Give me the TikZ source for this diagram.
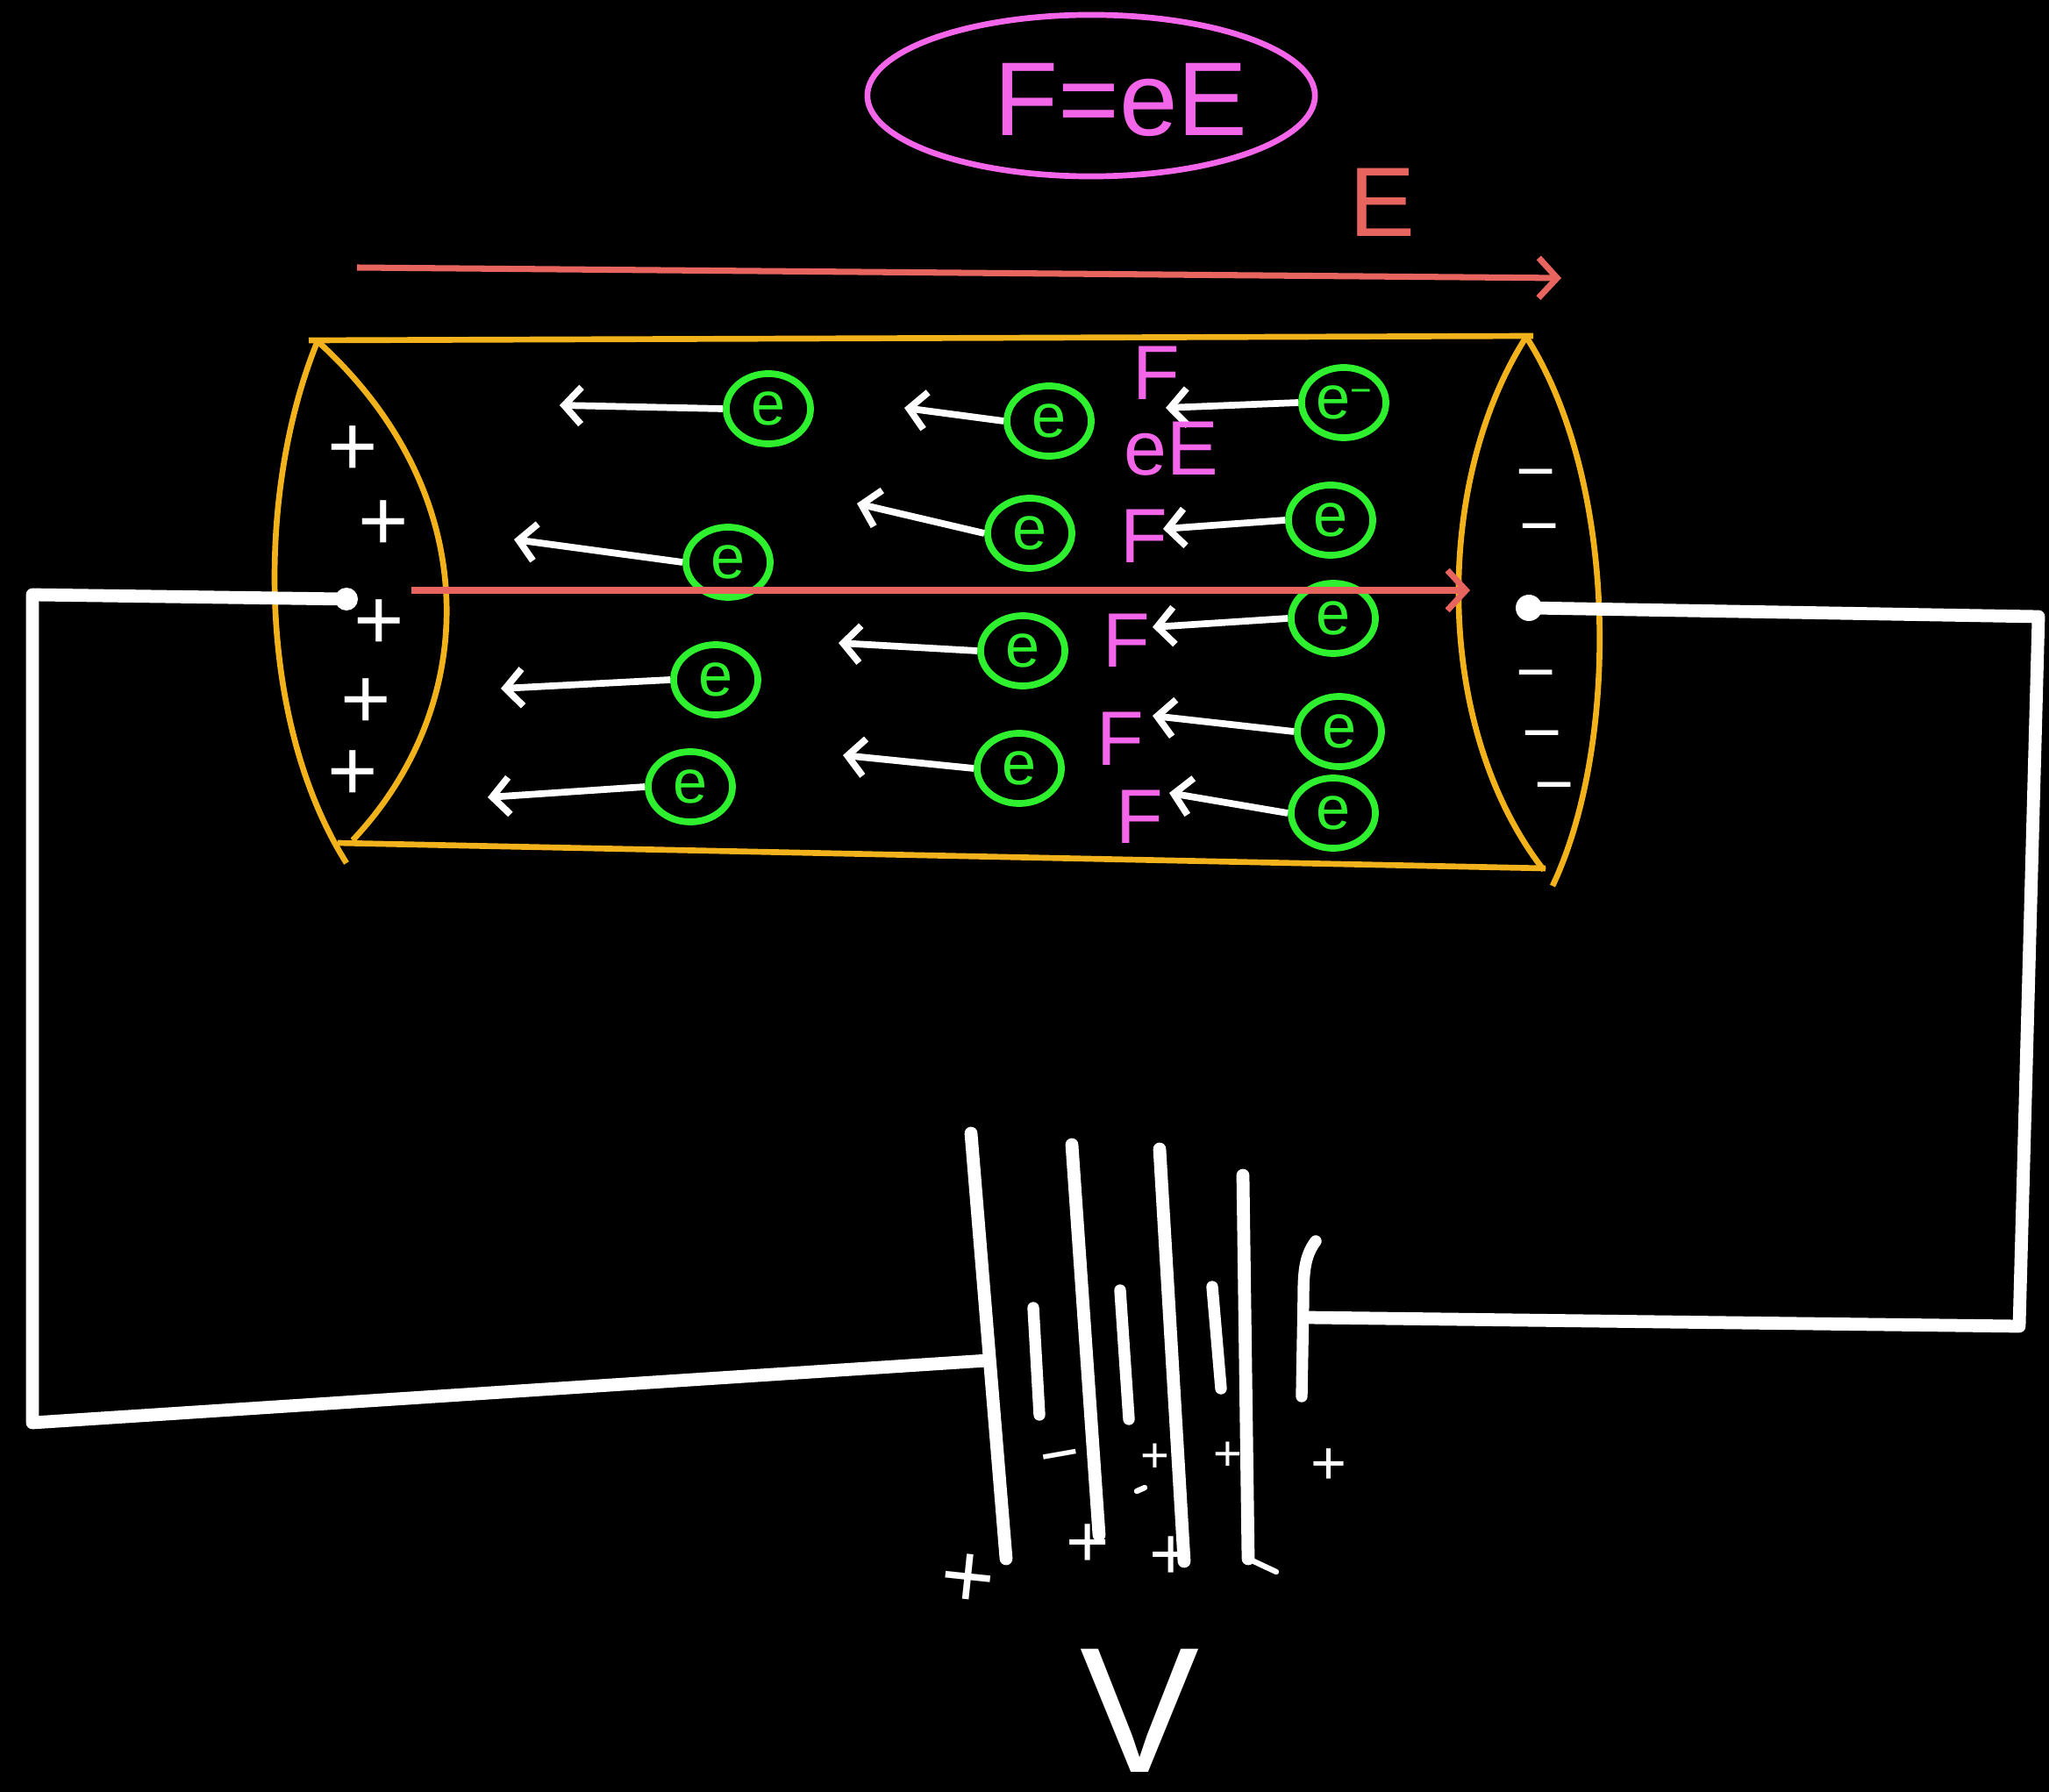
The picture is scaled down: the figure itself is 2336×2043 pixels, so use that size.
\documentclass[tikz,border=0pt]{standalone}
\usepackage{fontspec}
\setmainfont{Liberation Sans}
\usetikzlibrary{arrows.meta,shapes.geometric}
\definecolor{amber}{HTML}{F2B21B}
\definecolor{elgreen}{HTML}{2EF02E}
\definecolor{pinkish}{HTML}{F466E9}
\definecolor{fieldred}{HTML}{E8645E}
\newcommand{\fsz}[1]{\fontsize{#1}{#1}\selectfont}

\begin{document}
\begin{tikzpicture}[x=0.01cm,y=-0.01cm,
  wire/.style={white,line width=4.2pt,line cap=round,line join=round},
  plate/.style={white,line width=4.2pt,line cap=round},
  shortplate/.style={white,line width=3.8pt,line cap=round},
  tick/.style={white,line width=1.8pt,line cap=round},
  tube/.style={amber,line width=1.9pt},
  field/.style={fieldred,line width=2pt,-{Straight Barb[length=6pt,width=13pt]}},
  force/.style={white,line width=2.2pt,-{Straight Barb[length=5.5pt,width=12pt]}},
  electron/.style={ellipse,draw=elgreen,line width=2.2pt,minimum width=0.96cm,
    minimum height=0.8cm,inner sep=0pt,text=elgreen,font=\fsz{20}},
  flabel/.style={text=pinkish,font=\fsz{25},inner sep=0pt},
  pluscharge/.style={text=white,inner sep=0pt,font=\fsz{28}},
  minuscharge/.style={text=white,inner sep=0pt,font=\fsz{22}},
  cellmark/.style={text=white,inner sep=0pt},
]
\fill[black] (0,0) rectangle (2336,2043);
\useasboundingbox (0,0) rectangle (2336,2043);

% the force law, ringed
\node[ellipse,draw=pinkish,line width=1.9pt,minimum width=5.1cm,minimum height=1.84cm] (lawring) at (1244,109) {};
\node[text=pinkish,font=\fsz{34},inner sep=0pt] (lawtext) at (1278,114) {F=eE};

% field label and the field arrow above the conductor
\node[text=fieldred,font=\fsz{32},inner sep=0pt] (Elabel) at (1576,231) {E};
\coordinate (ftail) at (407,305);
\coordinate (fhead) at (1780,317);
\draw[field] (ftail) -- (fhead);

% the conductor: a cylinder with two end caps
\coordinate (tl) at (362,389);
\coordinate (tr) at (1740,384);
\coordinate (bl) at (395,984);
\coordinate (blf) at (402,958);
\coordinate (br) at (1760,992);
\coordinate (brf) at (1770,1010);
\draw[tube] (352,388) -- (1748,383);
\draw[tube] (385,961) -- (1762,990);
\draw[tube] (tl) .. controls (292,560) and (292,820) .. (bl);
\draw[tube] (tl) .. controls (551,560) and (551,800) .. (blf);
\draw[tube] (tr) .. controls (1634,550) and (1634,830) .. (br);
\draw[tube] (tr) .. controls (1846,550) and (1846,850) .. (brf);

% positive charges on the left face
\foreach \x/\y [count=\i] in {402/514, 437/599, 432/712, 417/802, 402/884}
  \node[pluscharge] (p\i) at (\x,\y) {+};
% negative charges on the right face
\foreach \x/\y [count=\i] in {1751/549, 1755/611, 1751/778, 1758/847, 1772/906}
  \node[minuscharge] (m\i) at (\x,\y) {−};

% free electrons
\node[electron] (e11) at (876,466) {e};
\node[electron] (e12) at (830,641) {e};
\node[electron] (e13) at (816,775) {e};
\node[electron] (e14) at (787,897) {e};
\node[electron] (e21) at (1196,480) {e};
\node[electron] (e22) at (1174,608) {e};
\node[electron] (e23) at (1166,742) {e};
\node[electron] (e24) at (1162,876) {e};
\node[electron] (e31) at (1532,459) {e\raisebox{0.25em}{\fsz{12}−}};
\node[electron] (e32) at (1517,593) {e};
\node[electron] (e33) at (1520,705) {e};
\node[electron] (e34) at (1527,834) {e};
\node[electron] (e35) at (1520,927) {e};

% forces on the electrons, pointing against the field
\foreach \n/\x/\y in {11/638/462, 12/586/615, 13/571/785, 14/556/909,
                      21/1031/465, 22/977/574, 23/956/733, 24/961/861,
                      31/1329/465, 32/1326/603, 33/1314/715, 34/1314/816, 35/1333/904}
{
  \coordinate (t\n) at (\x,\y);
  \draw[force] (e\n.west) -- (t\n);
}

% force labels
\node[flabel] (F1) at (1318,425) {F};
\node[flabel] (eE) at (1335,512) {eE};
\node[flabel] (F2) at (1304,611) {F};
\node[flabel] (F3) at (1284,730) {F};
\node[flabel] (F4) at (1277,842) {F};
\node[flabel] (F5) at (1299,931) {F};

% field inside the conductor
\coordinate (itail) at (469,673);
\coordinate (ihead) at (1676,673);
\draw[field] (itail) -- (ihead);

% circuit wires
\coordinate (lc) at (395,683);
\coordinate (lt) at (37,678);
\coordinate (lb) at (37,1622);
\coordinate (bleft) at (1126,1551);
\coordinate (rc) at (1743,693);
\coordinate (rt) at (2324,703);
\coordinate (rb) at (2302,1512);
\coordinate (bright) at (1490,1502);
\draw[wire] (lc) -- (lt) -- (lb) -- (bleft);
\draw[wire] (rc) -- (rt) -- (rb) -- (bright);
\fill[white] (lc) circle [radius=13];
\fill[white] (rc) circle [radius=15];

% battery of cells
\draw[plate] (1107,1292) -- (1147,1777);
\draw[shortplate] (1178,1491) -- (1185,1613);
\draw[plate] (1222,1305) -- (1253,1750);
\draw[shortplate] (1277,1471) -- (1287,1618);
\draw[plate] (1322,1310) -- (1350,1780);
\draw[shortplate] (1382,1467) -- (1392,1583);
\draw[plate] (1417,1340) -- (1423,1777);
\draw[shortplate] (1500,1415) .. controls (1487,1432) and (1486,1452) .. (1486,1480) -- (1484,1592);

% cell polarity marks
\node[cellmark,font=\fsz{30},rotate=-6] (c1) at (1103,1802) {+};
\node[cellmark,font=\fsz{22},rotate=10] (c2) at (1210,1670) {−};
\node[cellmark,font=\fsz{24}] (c3) at (1240,1762) {+};
\node[cellmark,font=\fsz{16}] (c4) at (1317,1662) {+};
\node[cellmark,font=\fsz{24}] (c5) at (1335,1776) {+};
\node[cellmark,font=\fsz{16}] (c6) at (1400,1660) {+};
\node[cellmark,font=\fsz{20},rotate=180] (c7) at (1515,1666) {+};
\draw[tick] (1423,1777) -- (1455,1792);
\draw[tick] (1296,1700) -- (1305,1696);

% source voltage
\node[text=white,font=\fsz{58},inner sep=0pt] (V) at (1300,1950) {V};

\end{tikzpicture}
\end{document}
